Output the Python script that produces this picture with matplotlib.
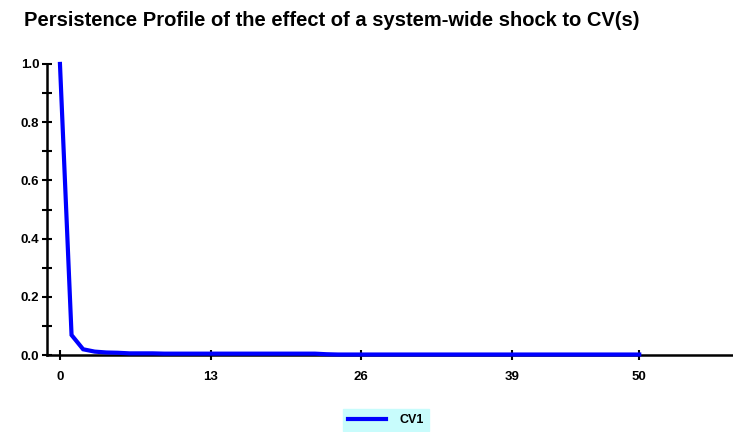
"""Persistence profile of a system-wide shock to CV(s)."""

import matplotlib.pyplot as plt

plt.rcParams["font.family"] = ["Liberation Sans", "DejaVu Sans"]

horizon = list(range(51))
cv1 = [
	1.0, 0.069, 0.020, 0.012, 0.009, 0.008, 0.006, 0.006, 0.006, 0.005,
	0.005, 0.005, 0.005, 0.005, 0.005, 0.005, 0.005, 0.005, 0.005, 0.005,
	0.005, 0.005, 0.005, 0.003, 0.002, 0.002, 0.002, 0.002, 0.002, 0.002,
	0.002, 0.002, 0.002, 0.002, 0.002, 0.002, 0.002, 0.002, 0.002, 0.002,
	0.002, 0.002, 0.002, 0.002, 0.002, 0.002, 0.002, 0.002, 0.002, 0.002,
	0.002,
]
x_ticks = [0, 13, 26, 39, 50]
y_ticks = [0.0, 0.2, 0.4, 0.6, 0.8, 1.0]


def main() -> None:
	fig = plt.figure(figsize=(7.33, 4.32), dpi=100)
	ax = fig.add_axes([0.0641, 0.178, 0.936, 0.674])

	ax.plot(horizon, cv1, color="#0000ff", lw=3, label="CV1",
		clip_on=False, zorder=3, solid_joinstyle="miter")

	ax.set_xlim(-1.12, 58.1)
	ax.set_ylim(0, 1.0)
	ax.set_xticks(x_ticks)
	ax.set_yticks(y_ticks)
	ax.set_yticks([0.1, 0.3, 0.5, 0.7, 0.9], minor=True)
	ax.set_yticklabels([f"{v:.1f}" for v in y_ticks])

	for side in ("top", "right"):
		ax.spines[side].set_visible(False)
	for side in ("left", "bottom"):
		ax.spines[side].set_linewidth(1.8)
	ax.tick_params(axis="both", which="both", direction="inout",
		length=7, width=1.5, labelsize=9.5, pad=2)
	ax.tick_params(axis="x", pad=8)
	for lab in ax.get_xticklabels() + ax.get_yticklabels():
		lab.set_fontweight("bold")

	fig.text(0.033, 0.953, "Persistence Profile of the effect of a system-wide shock to CV(s)",
		fontsize=14.5, fontweight="bold", va="center", ha="left")

	leg = fig.legend(loc="lower center", bbox_to_anchor=(0.527, -0.012),
		frameon=True, fancybox=False, handlelength=3.0, borderpad=0.4,
		handletextpad=1.1, prop={"weight": "bold", "size": 9})
	leg.get_frame().set_facecolor("#c8fcfc")
	leg.get_frame().set_edgecolor("#c8fcfc")
	leg.get_frame().set_alpha(1)

	fig.savefig("out.png", dpi=100)


if __name__ == "__main__":
	main()
